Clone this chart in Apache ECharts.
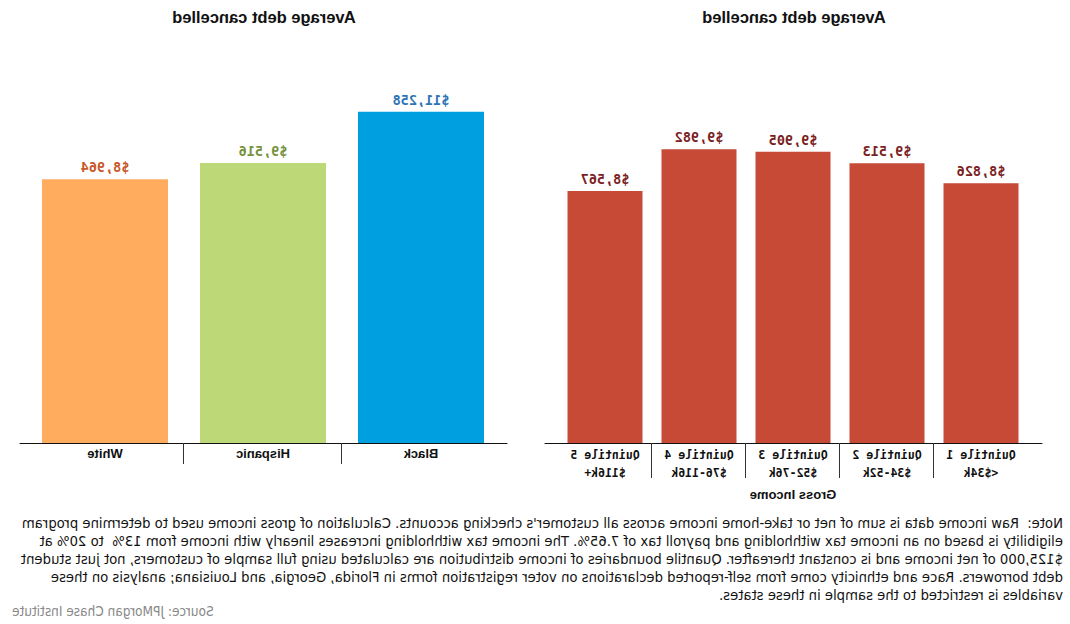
<!DOCTYPE html>
<html>
<head>
<meta charset="utf-8">
<script src="https://cdn.jsdelivr.net/npm/echarts@6/dist/echarts.min.js"></script>
<style>
html,body{margin:0;padding:0;background:#fff;}
#wrap{width:1070px;height:624px;transform:scaleX(-1);transform-origin:center center;}
#chart{width:1070px;height:624px;}
</style>
</head>
<body>
<div id="wrap"><div id="chart"></div></div>
<script>
// ---- data ----
const quintileCategories = ['Quintile 1\n<$34k', 'Quintile 2\n$34-52k', 'Quintile 3\n$52-76k', 'Quintile 4\n$76-116k', 'Quintile 5\n$116k+'];
const quintileValues = [8826, 9513, 9905, 9982, 8567];
const raceCategories = ['Black', 'Hispanic', 'White'];
const raceValues = [11258, 9516, 8964];
const panelTitles = ['Average debt cancelled', 'Average debt cancelled'];
const xAxisName = 'Gross Income';
const noteLines = [
  "Note:  Raw income data is sum of net or take-home income across all customer's checking accounts. Calculation of gross income used to determine program",
  "eligibility is based on an income tax withholding and payroll tax of 7.65%. The income tax withholding increases linearly with income from 13%  to 20% at",
  "$125,000 of net income and is constant thereafter. Quantile boundaries of income distribution are calculated using full sample of customers, not just student",
  "debt borrowers. Race and ethnicity come from self-reported declarations on voter registration forms in Florida, Georgia, and Louisiana; analysis on these",
  "variables is restricted to the sample in these states."
];
const sourceText = 'Source: JPMorgan Chase Institute';

// ---- styles ----
const raceBarColors = ['#00a0e0', '#bdd977', '#ffac5f'];
const raceLabelColors = ['#2e75b6', '#76923c', '#c8582c'];
const quintileBarColor = '#c64a36';
const quintileLabelColor = '#7b1f1f';
const monoFont = '"DejaVu Sans Mono", "Liberation Mono", monospace';
const sansFont = '"Liberation Sans", Arial, sans-serif';
const narrowFont = '"Liberation Sans Narrow", "DejaVu Sans Condensed", sans-serif';

const chart = echarts.init(document.getElementById('chart'), null, {renderer: 'svg'});

function blanks(n) { return Array.from({length: n}, () => ''); }
const hiddenY = (gridIndex) => ({type: 'value', gridIndex, min: 0, max: 12000, show: false});
const lineAxis = (gridIndex) => ({
  type: 'value', gridIndex, min: 0, max: 1, position: 'bottom',
  axisLine: {show: true, lineStyle: {color: '#111', width: 1}},
  axisTick: {show: false}, axisLabel: {show: false}, splitLine: {show: false}
});
const sepAxis = (gridIndex, n, len) => ({
  type: 'category', gridIndex, data: blanks(n + 1), boundaryGap: false, position: 'bottom',
  axisLine: {show: false}, axisLabel: {show: false}, splitLine: {show: false},
  axisTick: {show: true, length: len, lineStyle: {color: '#333', width: 1},
    interval: (i) => i > 0 && i < n}
});

chart.setOption({
  animation: false,
  title: [
    {text: panelTitles[0], left: 271, top: 3, textAlign: 'center',
     textStyle: {fontFamily: sansFont, fontSize: 16.5, fontWeight: 'bold', color: '#111'}},
    {text: panelTitles[1], left: 801, top: 3, textAlign: 'center',
     textStyle: {fontFamily: sansFont, fontSize: 16.5, fontWeight: 'bold', color: '#111'}}
  ],
  grid: [
    {left: 42, width: 470, top: 90, height: 353},
    {left: 570, width: 474, top: 90, height: 353},
    {left: 28, width: 497, top: 90, height: 353},
    {left: 563, width: 487, top: 90, height: 353}
  ],
  xAxis: [
    {type: 'category', gridIndex: 0, data: quintileCategories, position: 'bottom',
     axisLine: {show: false}, axisTick: {show: false},
     axisLabel: {margin: 3, fontFamily: monoFont, fontSize: 11.5, fontWeight: 'bold', color: '#111', lineHeight: 18},
     name: xAxisName, nameLocation: 'middle', nameGap: 45,
     nameTextStyle: {fontFamily: sansFont, fontSize: 13, fontWeight: 'bold', color: '#111'}},
    {type: 'category', gridIndex: 1, data: raceCategories, position: 'bottom',
     axisLine: {show: false}, axisTick: {show: false},
     axisLabel: {margin: 4, fontFamily: sansFont, fontSize: 13, fontWeight: 'bold', color: '#111'}},
    sepAxis(0, quintileCategories.length, 35),
    sepAxis(1, raceCategories.length, 21),
    lineAxis(2),
    lineAxis(3)
  ],
  yAxis: [hiddenY(0), hiddenY(1), hiddenY(2), hiddenY(3)],
  series: [
    {type: 'bar', xAxisIndex: 0, yAxisIndex: 0, data: quintileValues, barWidth: 75,
     itemStyle: {color: quintileBarColor},
     label: {show: true, position: 'top', distance: 5, fontFamily: monoFont, fontSize: 13.5, fontWeight: 'bold',
       color: quintileLabelColor, formatter: (p) => '$' + p.value.toLocaleString('en-US')}},
    {type: 'bar', xAxisIndex: 1, yAxisIndex: 1, barWidth: 126,
     data: raceValues.map((v, i) => ({value: v, itemStyle: {color: raceBarColors[i]},
       label: {color: raceLabelColors[i]}})),
     label: {show: true, position: 'top', distance: 5, fontFamily: monoFont, fontSize: 13.5, fontWeight: 'bold',
       formatter: (p) => '$' + p.value.toLocaleString('en-US')}}
  ],
  graphic: [
    {type: 'text', left: 7, top: 513,
     style: {text: noteLines.join('\n'), fontFamily: narrowFont, fontSize: 14.7, lineHeight: 18, fill: '#111'}},
    {type: 'text', right: 12, top: 604,
     style: {text: sourceText, fontFamily: narrowFont, fontSize: 13.5, fill: '#888'}}
  ]
});
</script>
</body>
</html>
